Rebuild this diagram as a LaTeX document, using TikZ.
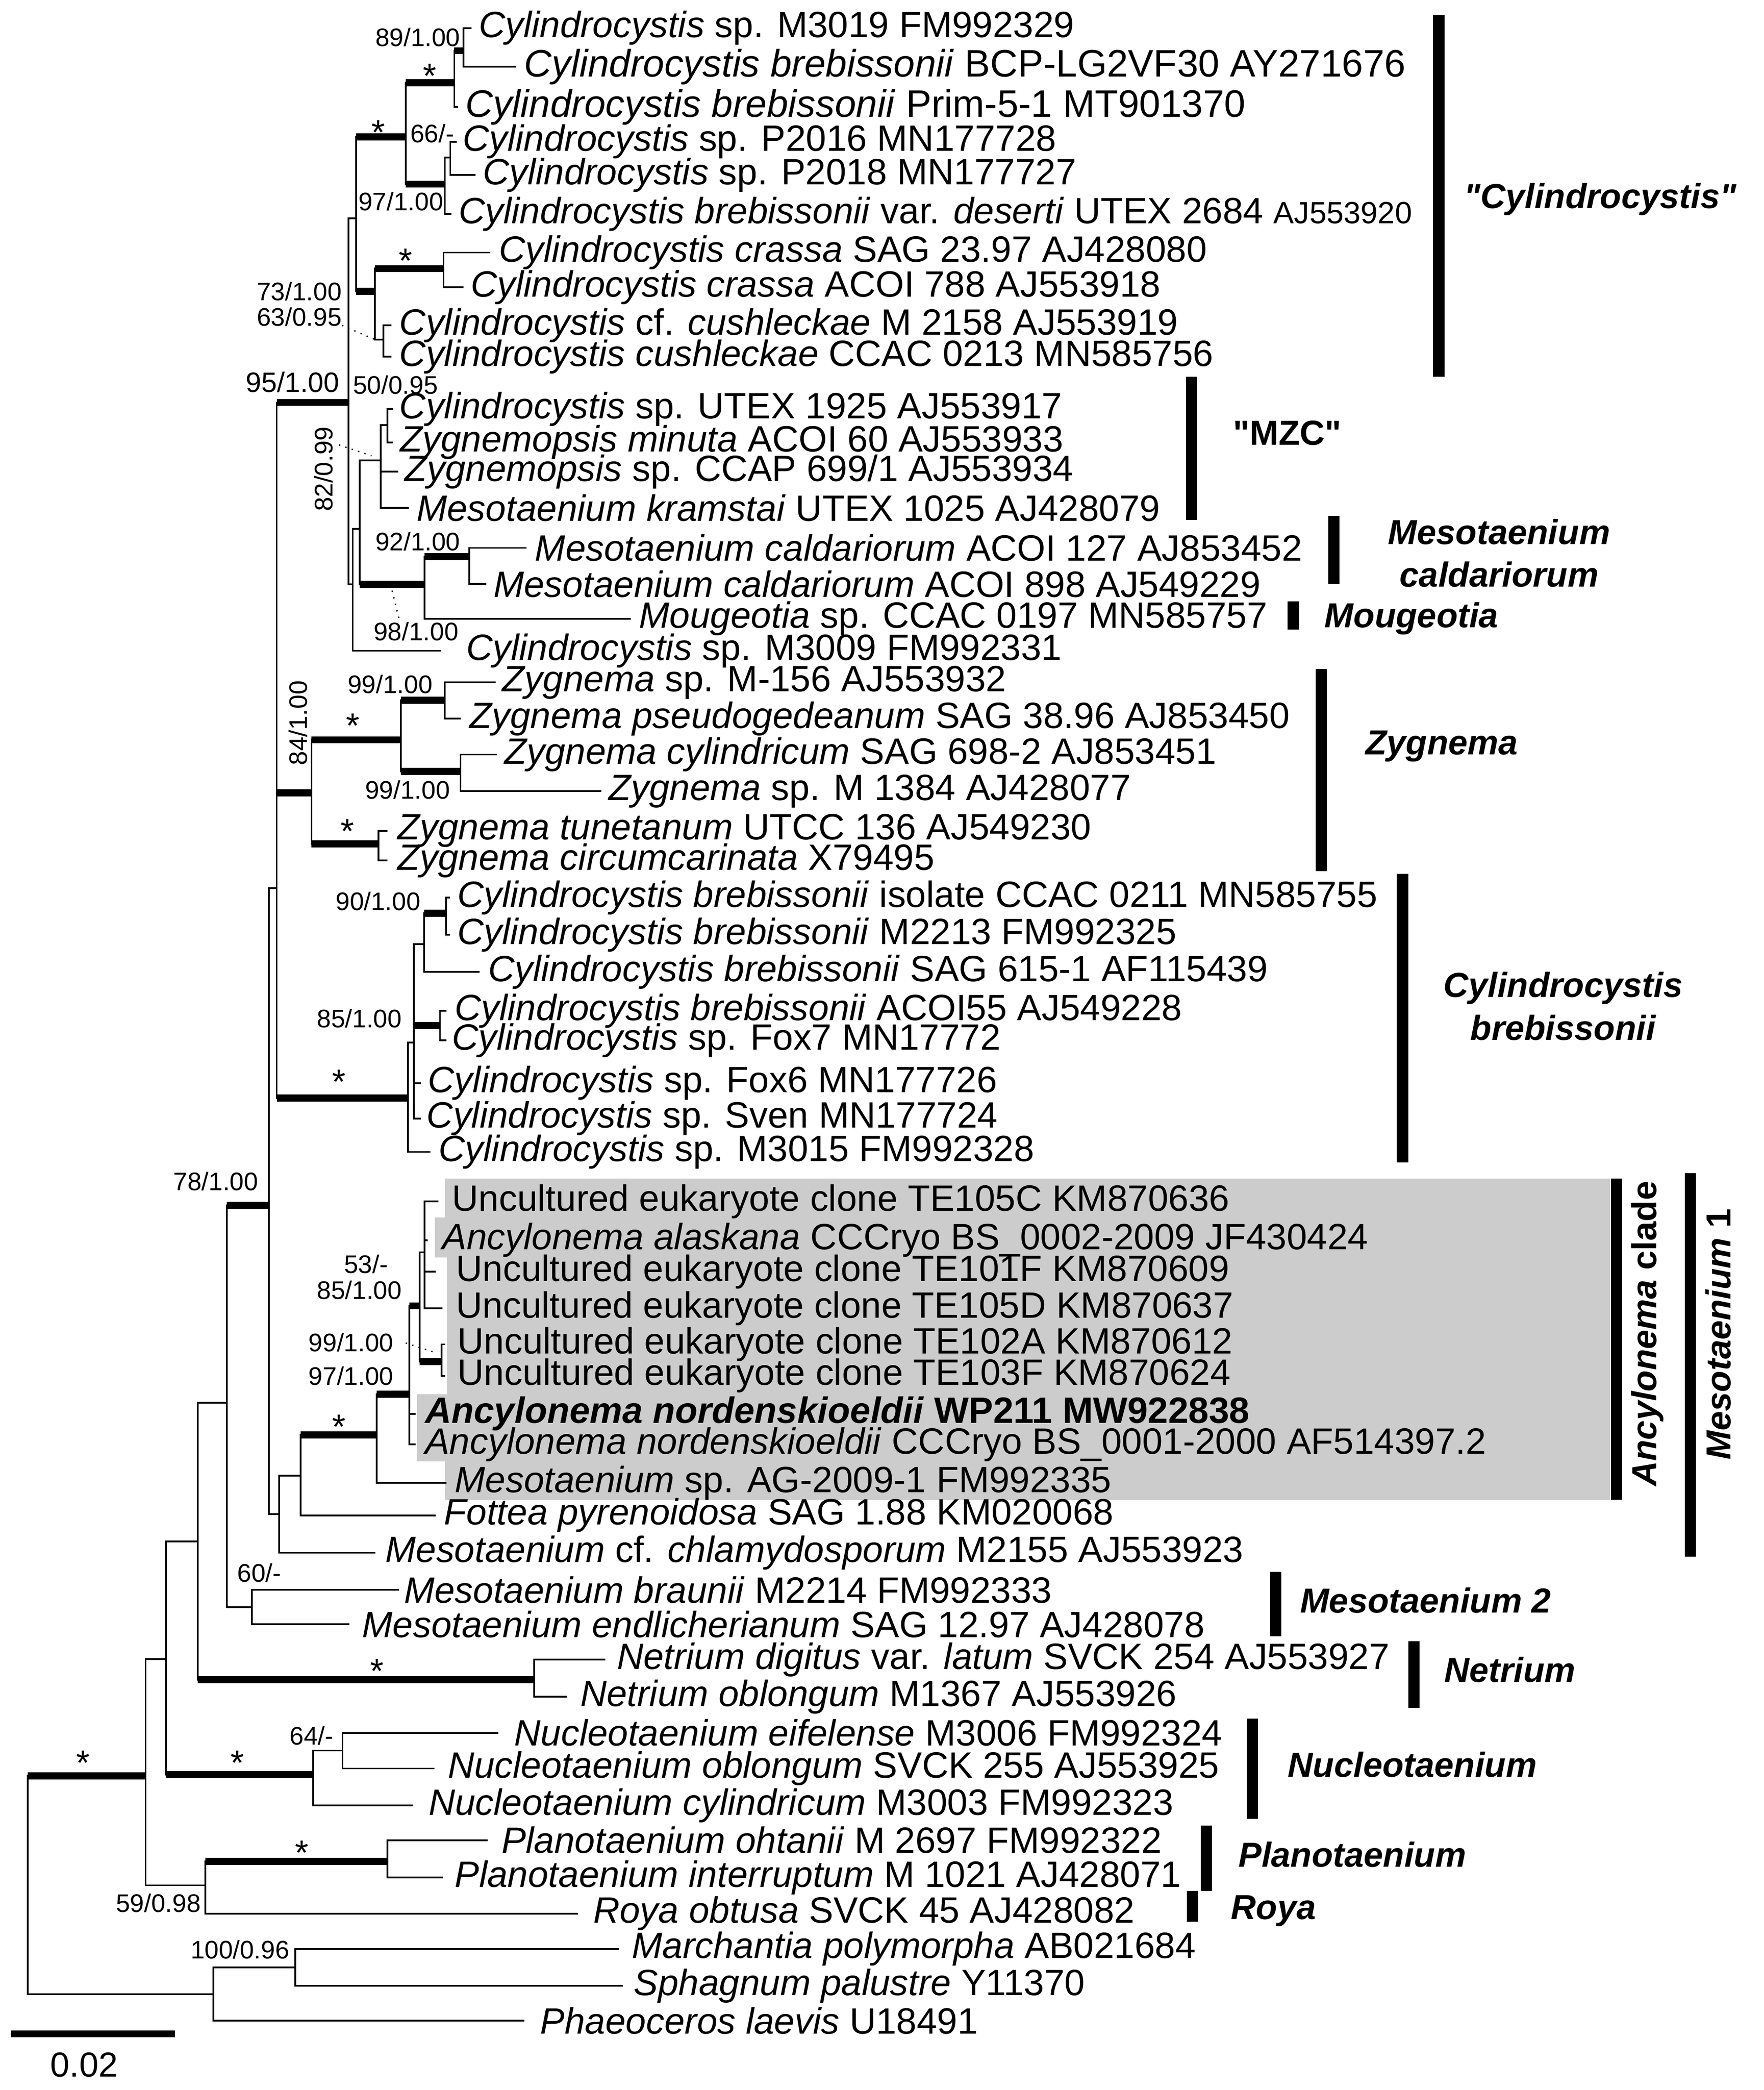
\documentclass[tikz,border=0pt]{standalone}
\usepackage{fontspec}
\setmainfont{Liberation Sans}[Ligatures=TeXOff]
\begin{document}
\begin{tikzpicture}[x=0.5pt,y=-0.5pt,
 br/.style={line width=0.65pt},
 thk/.style={line width=2.6pt},
 gbar/.style={line width=4.2pt},
 tip/.style={anchor=west,inner sep=0pt,font=\fontsize{13.7}{15}\selectfont},
 tipL/.style={anchor=west,inner sep=0pt,font=\fontsize{14.3}{16}\selectfont},
 sup/.style={inner sep=0pt,font=\fontsize{9.5}{11}\selectfont},
 stl/.style={inner sep=0pt,font=\fontsize{13}{13}\selectfont,yshift=-3pt},
 grp/.style={inner sep=0pt,font=\fontsize{13}{16}\selectfont\bfseries\itshape,align=center},
 dots/.style={line width=0.5pt,dotted}]
\newcommand{\lf}[5]{\coordinate (#1) at (#2,#3); \node[tip] (#1l) at (#4,#3) {#5};}
\newcommand{\lfL}[5]{\coordinate (#1) at (#2,#3); \node[tipL] (#1l) at (#4,#3) {#5};}
\newcommand{\cn}[3]{\coordinate (#1) at (#2,#3);}
\newcommand{\bn}[2]{\draw[br] (#1) |- (#2);}
\newcommand{\tb}[2]{\draw[br] (#1) |- (#2); \draw[thk] (#1 |- #2) -- (#2);}
\useasboundingbox (0,0) rectangle (1320,1564);
% gray box
\fill[gray!40] (333,882) -- (1205,882) -- (1205,1122.5) -- (333,1122.5) -- (333,1093.6) -- (312,1093.6) -- (312,1043.4) -- (334.5,1043.4) -- (334.5,941) -- (325.5,941) -- (325.5,911) -- (333,911) -- cycle;
% tips
\lf{t1}{353}{21}{358}{\textit{Cylindrocystis} sp. M3019 FM992329}
\lfL{t2}{386}{50}{392}{\textit{Cylindrocystis brebissonii} BCP-LG2VF30 AY271676}
\lfL{t3}{343}{80}{348}{\textit{Cylindrocystis brebissonii} Prim-5-1 MT901370}
\lf{t4}{342}{106}{346}{\textit{Cylindrocystis} sp. P2016 MN177728}
\lf{t5}{356}{131}{361}{\textit{Cylindrocystis} sp. P2018 MN177727}
\lf{t6}{338}{160}{343}{\textit{Cylindrocystis brebissonii} var. \textit{deserti} UTEX 2684 {\fontsize{11.5}{12}\selectfont AJ553920}}
\lf{t7}{367}{189}{373}{\textit{Cylindrocystis crassa} SAG 23.97 AJ428080}
\lf{t8}{347}{215}{352}{\textit{Cylindrocystis crassa} ACOI 788 AJ553918}
\lf{t9}{293}{243.5}{298.6}{\textit{Cylindrocystis} cf. \textit{cushleckae} M 2158 AJ553919}
\lf{t10}{293}{267}{298.6}{\textit{Cylindrocystis cushleckae} CCAC 0213 MN585756}
\lf{t11}{294}{306}{298.6}{\textit{Cylindrocystis} sp. UTEX 1925 AJ553917}
\lf{t12}{294}{331}{299}{\textit{Zygnemopsis minuta} ACOI 60 AJ553933}
\lf{t13}{298}{353}{302.4}{\textit{Zygnemopsis} sp. CCAP 699/1 AJ553934}
\lf{t14}{306}{380}{311.4}{\textit{Mesotaenium kramstai} UTEX 1025 AJ428079}
\lf{t15}{394}{410}{400}{\textit{Mesotaenium caldariorum} ACOI 127 AJ853452}
\lf{t16}{364}{437}{369}{\textit{Mesotaenium caldariorum} ACOI 898 AJ549229}
\lf{t17}{472}{463}{478}{\textit{Mougeotia} sp. CCAC 0197 MN585757}
\lf{t18}{330}{487}{348.6}{\textit{Cylindrocystis} sp. M3009 FM992331}
\lf{t19}{371}{510.6}{375.5}{\textit{Zygnema} sp. M-156 AJ553932}
\lf{t20}{345}{537.8}{351}{\textit{Zygnema pseudogedeanum} SAG 38.96 AJ853450}
\lf{t21}{372}{564.7}{377}{\textit{Zygnema cylindricum} SAG 698-2 AJ853451}
\lf{t22}{450}{592}{455}{\textit{Zygnema} sp. M 1384 AJ428077}
\lf{t23}{290}{621.7}{297}{\textit{Zygnema tunetanum} UTCC 136 AJ549230}
\lf{t24}{290}{644}{297}{\textit{Zygnema circumcarinata} X79495}
\lf{t25}{337}{671.7}{342}{\textit{Cylindrocystis brebissonii} isolate CCAC 0211 MN585755}
\lf{t26}{337}{699.4}{342}{\textit{Cylindrocystis brebissonii} M2213 FM992325}
\lf{t27}{359}{727.2}{365}{\textit{Cylindrocystis brebissonii} SAG 615-1 AF115439}
\lf{t28}{334}{756.4}{340}{\textit{Cylindrocystis brebissonii} ACOI55 AJ549228}
\lf{t29}{334}{778.6}{338}{\textit{Cylindrocystis} sp. Fox7 MN17772}
\lf{t30}{315}{810.5}{320}{\textit{Cylindrocystis} sp. Fox6 MN177726}
\lf{t31}{315}{837}{319}{\textit{Cylindrocystis} sp. Sven MN177724}
\lf{t32}{322}{862}{328}{\textit{Cylindrocystis} sp. M3015 FM992328}
\lf{t33}{328}{899}{338}{Uncultured eukaryote clone TE105C KM870636}
\lf{t34}{320}{928}{330.6}{\textit{Ancylonema alaskana} CCCryo BS\_0002-2009 JF430424}
\lf{t35}{326}{951.6}{341}{Uncultured eukaryote clone TE101F KM870609}
\lf{t36}{331}{979}{341}{Uncultured eukaryote clone TE105D KM870637}
\lf{t37}{333}{1006}{342}{Uncultured eukaryote clone TE102A KM870612}
\lf{t38}{333}{1029.5}{342}{Uncultured eukaryote clone TE103F KM870624}
\lf{t39}{311}{1058}{317.8}{\textbf{\textit{Ancylonema nordenskioeldii} WP211 MW922838}}
\lf{t40}{311}{1080.8}{317.8}{\textit{Ancylonema nordenskioeldii} CCCryo BS\_0001-2000 AF514397.2}
\lf{t41}{334}{1109.6}{340}{\textit{Mesotaenium} sp. AG-2009-1 FM992335}
\lf{t42}{326}{1134}{332}{\textit{Fottea pyrenoidosa} SAG 1.88 KM020068}
\lf{t43}{281}{1162}{288}{\textit{Mesotaenium} cf. \textit{chlamydosporum} M2155 AJ553923}
\lf{t44}{298.6}{1189.7}{302}{\textit{Mesotaenium braunii} M2214 FM992333}
\lf{t45}{261.4}{1215.4}{270.7}{\textit{Mesotaenium endlicherianum} SAG 12.97 AJ428078}
\lf{t46}{453}{1242}{461.4}{\textit{Netrium digitus} var. \textit{latum} SVCK 254 AJ553927}
\lf{t47}{424.5}{1269.7}{434}{\textit{Netrium oblongum} M1367 AJ553926}
\lf{t48}{373}{1296.7}{384.5}{\textit{Nucleotaenium eifelense} M3006 FM992324}
\lf{t49}{325}{1323.4}{334.8}{\textit{Nucleotaenium oblongum} SVCK 255 AJ553925}
\lf{t50}{309}{1351}{320.4}{\textit{Nucleotaenium cylindricum} M3003 FM992323}
\lf{t51}{365}{1377}{375}{\textit{Planotaenium ohtanii} M 2697 FM992322}
\lf{t52}{331.6}{1405}{340}{\textit{Planotaenium interruptum} M 1021 AJ428071}
\lf{t53}{432.5}{1432}{443.7}{\textit{Roya obtusa} SVCK 45 AJ428082}
\lf{t54}{463}{1458.4}{472.6}{\textit{Marchantia polymorpha} AB021684}
\lf{t55}{466}{1486}{474}{\textit{Sphagnum palustre} Y11370}
\lf{t56}{392.5}{1512}{404}{\textit{Phaeoceros laevis} U18491}
% internal nodes
\cn{root}{20.8}{1400}
\cn{N1}{109}{1329}
\cn{OG}{159.6}{1492.3}
\cn{MS}{221}{1472.2}
\cn{N2}{124.3}{1241.5}
\cn{PR}{153.8}{1410.8}
\cn{Plan}{290}{1392.8}
\cn{Y}{148}{1153.4}
\cn{Nu}{234.5}{1328}
\cn{N64}{256.3}{1310}
\cn{Ne}{399.9}{1257}
\cn{X}{169.7}{1049.8}
\cn{M2}{188.4}{1202.6}
\cn{Z}{201.2}{902}
\cn{W}{208.9}{1133}
\cn{V}{225}{1104.3}
\cn{U}{281.9}{1073.8}
\cn{T}{306.3}{1043.4}
\cn{S}{314}{977.2}
\cn{S53}{317.8}{937}
\cn{S99}{330.6}{1018.9}
\cn{Q}{207.1}{664.7}
\cn{R}{305.5}{821.6}
\cn{R2}{309.6}{780}
\cn{N90}{317.3}{706.4}
\cn{N90b}{333.7}{683.3}
\cn{N85}{329.3}{767.5}
\cn{P}{233.2}{593.4}
\cn{Z1}{299.9}{553.6}
\cn{Z99a}{332.7}{524}
\cn{Z99b}{344.7}{577.2}
\cn{Z2}{283.2}{631.4}
\cn{K}{260.9}{301.2}
\cn{CylA}{266.5}{163.4}
\cn{C1}{303.7}{102.5}
\cn{E}{340}{62}
\cn{N89}{347}{38}
\cn{F}{333}{137.8}
\cn{G}{337}{118}
\cn{C2}{280.6}{218}
\cn{Cr}{332}{201}
\cn{Cu}{287}{254}
\cn{B}{264}{437.3}
\cn{D}{269.1}{395.7}
\cn{MZC}{285}{344.4}
\cn{Sm}{290}{318}
\cn{Mc}{317.8}{437.3}
\cn{N92}{351.1}{416.5}
% branches
\tb{root}{N1} \bn{root}{OG}
\bn{OG}{MS} \bn{OG}{t56} \bn{MS}{t54} \bn{MS}{t55}
\bn{N1}{N2} \bn{N1}{PR}
\tb{PR}{Plan} \bn{PR}{t53} \bn{Plan}{t51} \bn{Plan}{t52}
\bn{N2}{Y} \tb{N2}{Nu}
\bn{Nu}{N64} \bn{Nu}{t50} \bn{N64}{t48} \bn{N64}{t49}
\bn{Y}{X} \tb{Y}{Ne} \bn{Ne}{t46} \bn{Ne}{t47}
\tb{X}{Z} \bn{X}{M2} \bn{M2}{t44} \bn{M2}{t45}
\bn{Z}{Q} \bn{Z}{W}
\bn{W}{V} \bn{W}{t43}
\tb{V}{U} \bn{V}{t42}
\tb{U}{T} \bn{U}{t41}
\tb{T}{S} \bn{T}{t39} \bn{T}{t40}
\bn{S}{S53} \tb{S}{S99}
\bn{S53}{t33} \bn{S53}{t34} \bn{S53}{t35} \bn{S53}{t36}
\bn{S99}{t37} \bn{S99}{t38}
\tb{Q}{K} \tb{Q}{P} \tb{Q}{R}
\bn{R}{R2} \bn{R}{t32}
\bn{R2}{N90} \tb{R2}{N85} \bn{R2}{t30} \bn{R2}{t31}
\tb{N90}{N90b} \bn{N90}{t27} \bn{N90b}{t25} \bn{N90b}{t26}
\bn{N85}{t28} \bn{N85}{t29}
\tb{P}{Z1} \tb{P}{Z2}
\tb{Z1}{Z99a} \tb{Z1}{Z99b}
\bn{Z99a}{t19} \bn{Z99a}{t20} \bn{Z99b}{t21} \bn{Z99b}{t22}
\bn{Z2}{t23} \bn{Z2}{t24}
\bn{K}{CylA} \bn{K}{B}
\tb{CylA}{C1} \tb{CylA}{C2}
\tb{C1}{E} \tb{C1}{F}
\tb{E}{N89} \bn{E}{t3} \bn{N89}{t1} \bn{N89}{t2}
\bn{F}{G} \bn{F}{t6} \bn{G}{t4} \bn{G}{t5}
\tb{C2}{Cr} \bn{C2}{Cu} \bn{Cr}{t7} \bn{Cr}{t8} \bn{Cu}{t9} \bn{Cu}{t10}
\bn{B}{D} \bn{B}{t18}
\bn{D}{MZC} \tb{D}{Mc}
\bn{MZC}{Sm} \bn{MZC}{t13} \bn{MZC}{t14} \bn{Sm}{t11} \bn{Sm}{t12}
\tb{Mc}{N92} \bn{Mc}{t17} \bn{N92}{t15} \bn{N92}{t16}
% support values
\node[sup] (s1) at (312.7,28) {89/1.00};
\node[sup] (s2) at (323.5,100) {66/-};
\node[sup] (s3) at (300,150.6) {97/1.00};
\node[sup] (s4) at (224,218) {73/1.00};
\node[sup] (s5) at (224,237) {63/0.95};
\node[sup,font=\fontsize{10.5}{12}\selectfont] (s6) at (219,286) {95/1.00};
\node[sup] (s7) at (296,288) {50/0.95};
\node[sup,rotate=90] (s8) at (242,351) {82/0.99};
\node[sup] (s9) at (312.7,405.3) {92/1.00};
\node[sup] (s10) at (311.4,472.6) {98/1.00};
\node[sup] (s11) at (292,512) {99/1.00};
\node[sup,rotate=90] (s12) at (223,541) {84/1.00};
\node[sup] (s13) at (305,591) {99/1.00};
\node[sup] (s14) at (283,674.4) {90/1.00};
\node[sup] (s15) at (269,762) {85/1.00};
\node[sup] (s16) at (161.5,884) {78/1.00};
\node[sup] (s17) at (274,946) {53/-};
\node[sup] (s18) at (269,965.5) {85/1.00};
\node[sup] (s19) at (262.7,1004.5) {99/1.00};
\node[sup] (s20) at (262.7,1029.5) {97/1.00};
\node[sup] (s21) at (194,1177) {60/-};
\node[sup,anchor=east] (s22) at (250,1299) {64/-};
\node[sup,anchor=east] (s23) at (150.6,1424) {59/0.98};
\node[sup,anchor=east] (s24) at (217,1459) {100/0.96};
% dotted leaders
\coordinate (d1a) at (256,243.5); \coordinate (d1b) at (282,254.7); \draw[dots] (d1a) -- (d1b);
\coordinate (d2a) at (253.7,333); \coordinate (d2b) at (278,341); \draw[dots] (d2a) -- (d2b);
\coordinate (d3a) at (293.5,442); \coordinate (d3b) at (298.6,463); \draw[dots] (d3a) -- (d3b);
\coordinate (d4a) at (303.7,1005); \coordinate (d4b) at (326.8,1012.5); \draw[dots] (d4a) -- (d4b);
% stars
\foreach \n/\x/\y in {a/321.6/51, b/283/93, c/303.7/189, d/264/537, e/260/616, f/253.7/803.6, g/253.7/1061.6, h/282/1244.5, i/62/1313, j/177.8/1313, k/226/1380.6}
  \node[stl] (star\n) at (\x,\y) {*};
% group bars and labels
\coordinate (g1a) at (1076.8,11); \coordinate (g1b) at (1076.8,282); \draw[gbar] (g1a) -- (g1b);
\node[grp] (G1) at (1197.6,149) {"Cylindrocystis"};
\coordinate (g2a) at (891.7,282); \coordinate (g2b) at (891.7,389); \draw[gbar] (g2a) -- (g2b);
\node[grp,font=\fontsize{13}{16}\selectfont\bfseries] (G2) at (963.5,324) {"MZC"};
\coordinate (g3a) at (998.3,386); \coordinate (g3b) at (998.3,437); \draw[gbar] (g3a) -- (g3b);
\node[grp] (G3) at (1122,414) {Mesotaenium\\caldariorum};
\coordinate (g4a) at (968,450); \coordinate (g4b) at (968,471); \draw[gbar] (g4a) -- (g4b);
\node[grp,anchor=west] (G4) at (991,463) {Mougeotia};
\coordinate (g5a) at (989,500.5); \coordinate (g5b) at (989,652); \draw[gbar] (g5a) -- (g5b);
\node[grp] (G5) at (1079,558.6) {Zygnema};
\coordinate (g6a) at (1049.7,654); \coordinate (g6b) at (1049.7,870); \draw[gbar] (g6a) -- (g6b);
\node[grp] (G6) at (1169.8,753) {Cylindrocystis\\brebissonii};
\coordinate (g7a) at (1209.9,882); \coordinate (g7b) at (1209.9,1122.5); \draw[gbar] (g7a) -- (g7b);
\node[grp,rotate=90,font=\fontsize{13}{16}\selectfont\bfseries] (G7) at (1233,998) {\textit{Ancylonema} clade};
\coordinate (g8a) at (1265.3,878); \coordinate (g8b) at (1265.3,1165); \draw[gbar] (g8a) -- (g8b);
\node[grp,rotate=90] (G8) at (1286,998.4) {Mesotaenium \upshape 1};
\coordinate (g9a) at (954.9,1176.4); \coordinate (g9b) at (954.9,1224.4); \draw[gbar] (g9a) -- (g9b);
\node[grp,anchor=west] (G9) at (972.7,1197.5) {Mesotaenium 2};
\coordinate (g10a) at (1058.3,1228); \coordinate (g10b) at (1058.3,1278); \draw[gbar] (g10a) -- (g10b);
\node[grp,anchor=west] (G10) at (1080.5,1249.4) {Netrium};
\coordinate (g11a) at (937.3,1286); \coordinate (g11b) at (937.3,1361); \draw[gbar] (g11a) -- (g11b);
\node[grp,anchor=west] (G11) at (963.5,1320.6) {Nucleotaenium};
\coordinate (g12a) at (902.8,1366); \coordinate (g12b) at (902.8,1415); \draw[gbar] (g12a) -- (g12b);
\node[grp,anchor=west] (G12) at (926.5,1387.8) {Planotaenium};
\coordinate (g13a) at (892.6,1415); \coordinate (g13b) at (892.6,1438); \draw[gbar] (g13a) -- (g13b);
\node[grp,anchor=west] (G13) at (921,1430) {Roya};
% scale bar
\coordinate (sb1) at (8,1522); \coordinate (sb2) at (131,1522);
\draw[line width=2.6pt] (sb1) -- (sb2);
\node[inner sep=0pt,font=\fontsize{13}{15}\selectfont] (sbl) at (63,1545) {0.02};
\end{tikzpicture}
\end{document}
